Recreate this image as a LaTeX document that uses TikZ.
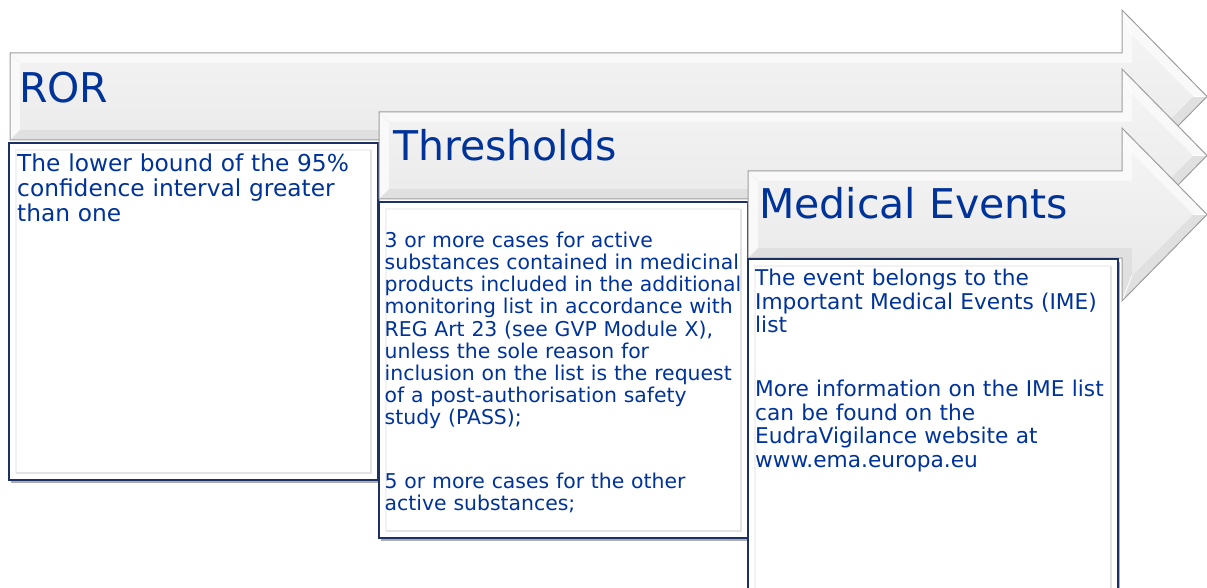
\documentclass[tikz,border=0pt]{standalone}
\usepackage{fontspec}
\setmainfont{DejaVu Sans}
\usetikzlibrary{shadows}
\definecolor{txtblue}{RGB}{0,51,153}
\definecolor{boxnavy}{RGB}{28,48,98}
\tikzset{
  arrowedge/.style={draw=black!38, line width=1pt, line join=miter},
  heading/.style={anchor=base west, inner sep=0pt, text=txtblue, font=\fontsize{41}{49}\selectfont},
  bodytext/.style={anchor=base west, inner sep=0pt, text=txtblue, align=left, text width=400pt},
  panel/.style={draw=boxnavy, line width=2.3pt, fill=white,
    drop shadow={shadow xshift=2pt, shadow yshift=-2.5pt, opacity=0.5, fill=black!65}},
  bevellight/.style={draw=gray!10, line width=2pt},
  beveldark/.style={draw=gray!22, line width=2.5pt},
}
\newcommand{\chevarrow}[2]{%
  \begin{scope}[shift={(0,#2)}]
    \fill[gray!5] (#1,0) -- (1122,0) -- (1122,-43) -- (1207,43.5) -- (1122,130) -- (1122,87) -- (#1,87) -- cycle;
    \fill[gray!24] (#1,87) -- (1122,87) -- (1122,130) -- (1207,43.5) -- (1193,43.5) -- (1132,104.5) -- (1132,77) -- (#1+10,77) -- cycle;
    \shade[top color=gray!9, bottom color=gray!17] (#1+10,10) -- (1132,10) -- (1132,-17.5) -- (1193,43.5) -- (1132,104.5) -- (1132,77) -- (#1+10,77) -- cycle;
    \draw[white, line width=0.8pt] (1122,-43) -- (1132,-17.5) (1207,43.5) -- (1193,43.5) (1122,130) -- (1132,104.5);
    \draw[gray!12, line width=0.6pt] (#1,0) -- (#1+10,10) (#1,87) -- (#1+10,77);
    \draw[arrowedge] (#1,0) -- (1122,0) -- (1122,-43) -- (1207,43.5) -- (1122,130) -- (1122,87) -- (#1,87) -- cycle;
  \end{scope}}
\newcommand{\panelbox}[4]{%
  \draw[panel] (#1,#2) rectangle (#3,#4);
  \draw[bevellight] (#1+7,#4-7) -- (#1+7,#2+7) -- (#3-7,#2+7);
  \draw[beveldark] (#3-7,#2+7) -- (#3-7,#4-7) -- (#1+7,#4-7);}
\begin{document}
\begin{tikzpicture}[x=1pt,y=-1pt]
  \useasboundingbox (0,0) rectangle (1207,588);
  % ROR
  \chevarrow{10}{53}
  \node[heading] (rorhead) at (19,103) {ROR};
  \panelbox{9}{143}{378}{480}
  \node[bodytext, font=\fontsize{23.3}{25}\selectfont] (rortxt) at (17,171.7)
    {The lower bound of the 95\%\\confidence interval greater\\than one};
  % Thresholds
  \chevarrow{379}{112}
  \node[heading] (thrhead) at (393,161) {Thresholds};
  \panelbox{379}{202}{748}{538}
  \node[bodytext, font=\fontsize{20.4}{22.2}\selectfont] (thrtxta) at (384.5,247.3)
    {3 or more cases for active\\substances contained in medicinal\\products included in the additional\\monitoring list in accordance with\\REG Art 23 (see GVP Module X),\\unless the sole reason for\\inclusion on the list is the request\\of a post-authorisation safety\\study (PASS);};
  \node[bodytext, font=\fontsize{20.4}{22.2}\selectfont] (thrtxtb) at (384.5,488.3)
    {5 or more cases for the other\\active substances;};
  % Medical Events
  \chevarrow{748}{171}
  \node[heading] (medhead) at (759,218.3) {Medical Events};
  \panelbox{748}{259}{1118}{610}
  \node[bodytext, font=\fontsize{21.7}{23.6}\selectfont] (medtxta) at (755,285.7)
    {The event belongs to the\\Important Medical Events (IME)\\list};
  \node[bodytext, font=\fontsize{21.7}{23.6}\selectfont] (medtxtb) at (755,396.7)
    {More information on the IME list\\can be found on the\\EudraVigilance website at\\www.ema.europa.eu};
\end{tikzpicture}
\end{document}
